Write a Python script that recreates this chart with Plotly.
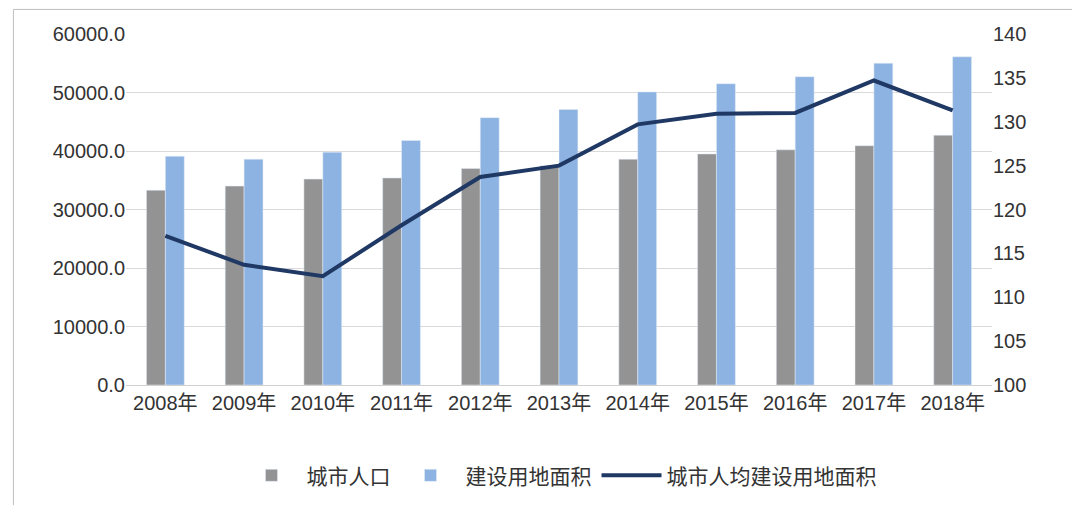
import plotly.graph_objects as go

years = ["2008年", "2009年", "2010年", "2011年", "2012年", "2013年",
         "2014年", "2015年", "2016年", "2017年", "2018年"]
pop = [33300, 34000, 35200, 35400, 37000, 37500, 38600, 39500, 40200, 40900, 42700]
land = [39100, 38600, 39800, 41800, 45700, 47100, 50100, 51500, 52700, 55000, 56100]
per_cap = [117.0, 113.7, 112.4, 118.2, 123.7, 125.0, 129.7, 130.9, 131.0, 134.7, 131.3]

fig = go.Figure()
fig.add_trace(go.Bar(x=years, y=pop, name="城市人口", marker_color="#939393"))
fig.add_trace(go.Bar(x=years, y=land, name="建设用地面积", marker_color="#8db3e2"))
fig.add_trace(go.Scatter(x=years, y=per_cap, name="城市人均建设用地面积", mode="lines",
                         line=dict(color="#1f3864", width=4), yaxis="y2"))

fig.update_layout(
    width=1080, height=505,
    paper_bgcolor="white", plot_bgcolor="white",
    font=dict(family="Liberation Sans, Noto Sans CJK SC", size=20, color="#333"),
    margin=dict(l=118, r=96, t=26, b=128),
    bargap=0.52, bargroupgap=0,
    xaxis=dict(showline=True, linecolor="#d0d0d0", ticks=""),
    yaxis=dict(range=[0, 60000], dtick=10000, tickformat=".1f",
               showgrid=True, gridcolor="#d9d9d9", zeroline=False),
    yaxis2=dict(range=[100, 140], dtick=5, overlaying="y", side="right",
                showgrid=False, zeroline=False),
    legend=dict(orientation="h", x=0.5, xanchor="center", y=-0.2, yanchor="top",
                font=dict(size=21), itemwidth=60),
    shapes=[dict(type="rect", xref="paper", yref="paper", x0=-0.13, x1=1.1,
                 y0=-0.36, y1=1.07, line=dict(color="#bfbfbf", width=1))],
)

fig.write_html("out.html")
